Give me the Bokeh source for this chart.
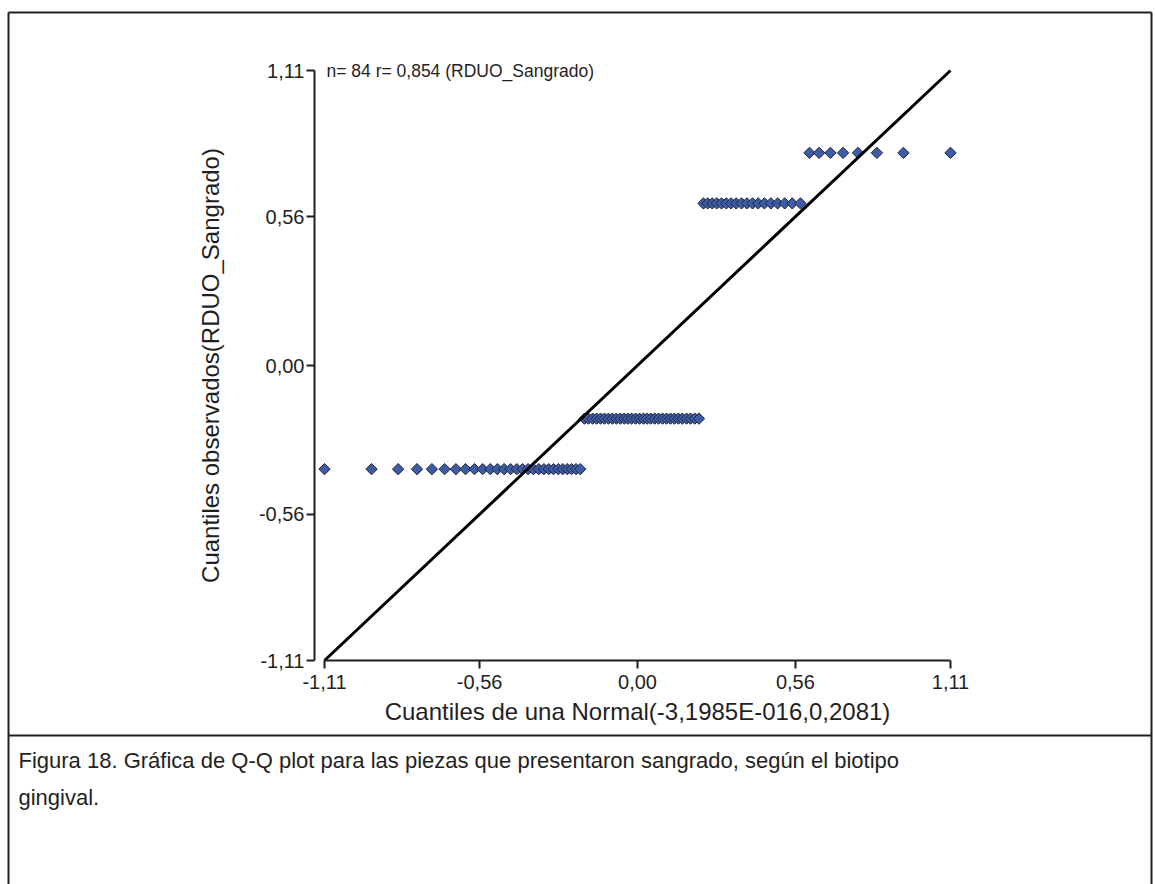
import numpy as np
from bokeh.plotting import figure
from bokeh.models import Range1d, LinearAxis, FixedTicker, CustomJSTickFormatter, Label
from bokeh.embed import file_html
from bokeh.resources import INLINE
from bokeh.core.properties import value

# ---------------- data ----------------
theoretical_q = [
    -1.110, -0.943, -0.849, -0.782, -0.729, -0.684, -0.644, -0.610, -0.578, -0.549,
    -0.522, -0.497, -0.473, -0.450, -0.428, -0.408, -0.388, -0.369, -0.350, -0.332,
    -0.315, -0.298, -0.281, -0.265, -0.249, -0.234, -0.218, -0.203, -0.188, -0.174,
    -0.159, -0.145, -0.131, -0.117, -0.103, -0.089, -0.075, -0.061, -0.047, -0.034,
    -0.021, -0.007,
    0.007, 0.021, 0.034, 0.047, 0.061, 0.075, 0.089, 0.103, 0.117, 0.131,
    0.145, 0.159, 0.174, 0.188, 0.203, 0.218, 0.234, 0.249, 0.265, 0.281,
    0.298, 0.315, 0.332, 0.350, 0.369, 0.388, 0.408, 0.428, 0.450, 0.473,
    0.497, 0.522, 0.549, 0.578, 0.610, 0.644, 0.684, 0.729, 0.782, 0.849,
    0.943, 1.110,
]
observed_levels = [-0.39, -0.20, 0.61, 0.80]
observed_counts = [28, 30, 18, 8]
observed_q = list(np.repeat(observed_levels, observed_counts))

ref_line_x = [-1.11, 1.11]
ref_line_y = [-1.11, 1.11]

x_ticks = [-1.11, -0.56, 0.0, 0.56, 1.11]
y_ticks = [-1.11, -0.56, 0.0, 0.56, 1.11]

title_text = "n= 84 r= 0,854 (RDUO_Sangrado)"
x_label = "Cuantiles de una Normal(-3,1985E-016,0,2081)"
y_label = "Cuantiles observados(RDUO_Sangrado)"
caption_1 = "Figura 18. Gráfica de Q-Q plot para las piezas que presentaron sangrado, según el biotipo"
caption_2 = "gingival."

# ---------------- layout (pixels) ----------------
W, H = 1155, 884
PX_XMIN, PX_XMAX = 324, 950      # pixel of -1.11 / 1.11 on x
PY_YMAX, PY_YMIN = 70, 660       # pixel of 1.11 / -1.11 on y
YAXIS_GAP = 10                   # y axis drawn left of data start

sx = (PX_XMAX - PX_XMIN) / 2.22
sy = (PY_YMIN - PY_YMAX) / 2.22
qx_start = -1.11 - PX_XMIN / sx
qx_end = qx_start + W / sx
qy_end = 1.11 + PY_YMAX / sy
qy_start = qy_end - H / sy

FONT = "Liberation Sans"
INK = "#1f1f1f"

p = figure(width=W, height=H, output_backend="svg", toolbar_location=None,
           x_axis_location=None, y_axis_location=None,
           x_range=Range1d(0, W), y_range=Range1d(H, 0),
           min_border=0, outline_line_color=None, background_fill_color="white",
           border_fill_color="white")
p.grid.visible = False
p.extra_x_ranges = {"qx": Range1d(qx_start, qx_end)}
p.extra_y_ranges = {"qy": Range1d(qy_start, qy_end)}

# page border and separator
p.segment(x0=[8, 8, 1151, 8], y0=[12, 12, 12, 735], x1=[1151, 8, 1151, 1151], y1=[12, H, H, 735],
          line_color="#231f20", line_width=2)

# caption
p.text(x=[18, 18], y=[760, 797], text=[caption_1, caption_2],
       text_font=value(FONT), text_font_size="22px", text_color="#231f20",
       text_baseline="middle", text_align="left")

fmt = CustomJSTickFormatter(code="return tick.toFixed(2).replace('.', ',');")

xaxis = LinearAxis(x_range_name="qx", y_range_name="qy", fixed_location=-1.11,
                   bounds=(-1.11, 1.11), ticker=FixedTicker(ticks=x_ticks), formatter=fmt,
                   axis_label=x_label)
yaxis = LinearAxis(x_range_name="qx", y_range_name="qy",
                   fixed_location=-1.11 - YAXIS_GAP / sx,
                   bounds=(-1.11, 1.11), ticker=FixedTicker(ticks=y_ticks), formatter=fmt,
                   axis_label=y_label)
for ax in (xaxis, yaxis):
    ax.axis_line_color = INK
    ax.axis_line_width = 2
    ax.major_tick_line_color = INK
    ax.major_tick_line_width = 2
    ax.major_tick_out = 8
    ax.major_tick_in = 0
    ax.minor_tick_line_color = None
    ax.major_label_text_font = FONT
    ax.major_label_text_font_size = "20px"
    ax.major_label_text_color = INK
    ax.axis_label_text_font = FONT
    ax.axis_label_text_font_size = "24px"
    ax.axis_label_text_font_style = "normal"
    ax.axis_label_text_color = INK
xaxis.major_label_standoff = 6
xaxis.axis_label_standoff = 6
yaxis.major_label_standoff = 2
yaxis.axis_label_standoff = 32
p.add_layout(xaxis, "below")
p.add_layout(yaxis, "left")

p.scatter(theoretical_q, observed_q, marker="square", angle=np.pi / 4, size=8,
          fill_color="#3d5ca6", line_color="#222233", line_width=1,
          x_range_name="qx", y_range_name="qy")
p.line(ref_line_x, ref_line_y, line_color="black", line_width=3,
       x_range_name="qx", y_range_name="qy")

p.add_layout(Label(x=-1.11, y=1.11, x_range_name="qx", y_range_name="qy", text=title_text,
                   text_font=FONT, text_font_size="17.5px", text_color=INK,
                   text_baseline="middle", x_offset=2, y_offset=0))

open("out.html", "w").write(file_html(p, INLINE))
